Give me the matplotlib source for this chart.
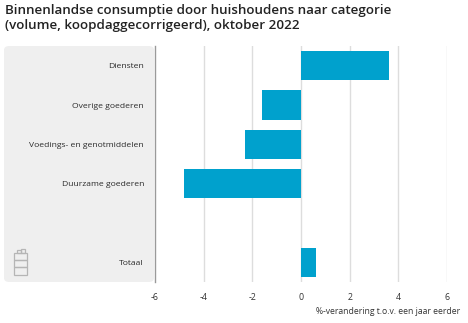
import matplotlib.pyplot as plt
from matplotlib.patches import FancyBboxPatch, Rectangle
import numpy as np

title = 'Binnenlandse consumptie door huishoudens naar categorie\n(volume, koopdaggecorrigeerd), oktober 2022'
categories = ['Diensten', 'Overige goederen', 'Voedings- en genotmiddelen',
              'Duurzame goederen', '', 'Totaal']
values = [3.6, -1.6, -2.3, -4.8, np.nan, 0.6]
xticks = [-6, -4, -2, 0, 2, 4, 6]
xlabel = '%-verandering t.o.v. een jaar eerder'

plt.rcParams['font.family'] = ['Open Sans', 'DejaVu Sans']

W, H = 468, 323
fig = plt.figure(figsize=(W / 100, H / 100), dpi=100)

# grey label panel on the left
panel = FancyBboxPatch((4 / W, 1 - 282 / H), (154 - 4) / W, (282 - 46) / H,
                       boxstyle='round,pad=0,rounding_size=0.012',
                       transform=fig.transFigure, facecolor='#efefef',
                       edgecolor='none', zorder=-5)
fig.patches.append(panel)

ax = fig.add_axes([155 / W, 1 - 282 / H, (447 - 155) / W, (282 - 46) / H])
ax.set_facecolor('none')
ax.set_zorder(2)

y = np.arange(len(categories))
ax.barh(y, values, height=0.74, color='#00a1cd', zorder=3)
ax.set_ylim(len(categories) - 0.5, -0.5)
ax.set_xlim(-6, 6)

ax.set_yticks(y)
ax.set_yticklabels(categories, fontsize=6.1, color='#2a2a2a')
ax.tick_params(axis='y', length=0, pad=8)
ax.set_xticks(xticks)
ax.set_xticklabels([str(t) for t in xticks], fontsize=6.4, color='#333333')
ax.tick_params(axis='x', length=0, pad=8)

for t in xticks[1:]:
    ax.axvline(t, color='#dddddd', lw=1, zorder=1)
for s in ['top', 'right', 'bottom']:
    ax.spines[s].set_visible(False)
ax.spines['left'].set_color('#9a9a9a')
ax.spines['left'].set_linewidth(1)

fig.text(460 / W, 1 - 311 / H, xlabel, ha='right', va='center',
         fontsize=6.2, color='#333333')
fig.text(5 / W, 1 - 4 / H, title, ha='left', va='top', fontsize=9.6,
         fontweight='semibold', color='#222222', linespacing=1.25)

# small logo mark in the panel
for x0, y0, w, h in [(14, 253, 13, 7), (14, 260, 13, 7), (14, 267, 13, 8),
                     (17, 250, 4, 3), (21, 249, 4, 4)]:
    fig.patches.append(Rectangle((x0 / W, 1 - (y0 + h) / H), w / W, h / H,
                                 transform=fig.transFigure, facecolor='none',
                                 edgecolor='#b5b5b5', lw=0.9, zorder=-4))

fig.savefig('out.png', dpi=100)
